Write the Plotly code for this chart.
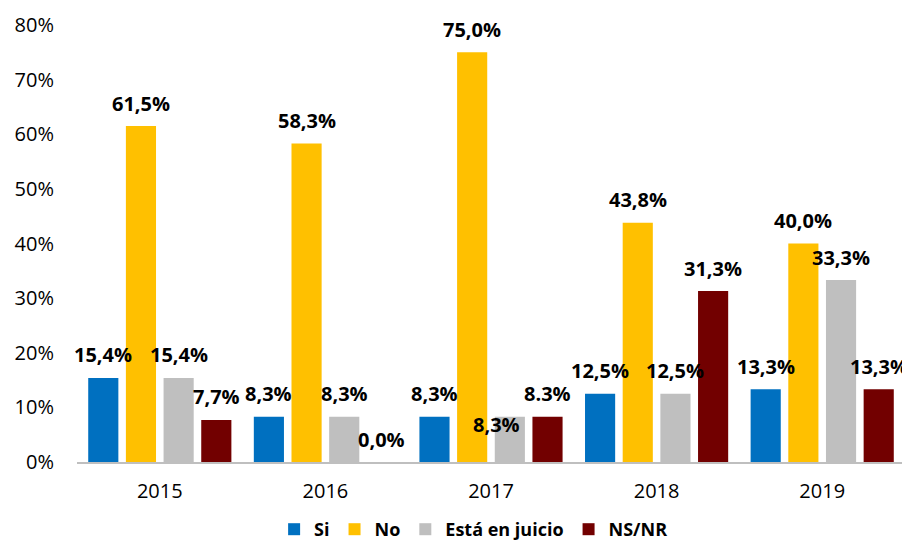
import plotly.graph_objects as go

# datos
years = ["2015", "2016", "2017", "2018", "2019"]
series_names = ["Si", "No", "Está en juicio", "NS/NR"]
si = [15.4, 8.3, 8.3, 12.5, 13.3]
no = [61.5, 58.3, 75.0, 43.8, 40.0]
juicio = [15.4, 8.3, 8.3, 12.5, 33.3]
nsnr = [7.7, 0.0, 8.3, 31.3, 13.3]
label_si = ["15,4%", "8,3%", "8,3%", "12,5%", "13,3%"]
label_no = ["61,5%", "58,3%", "75,0%", "43,8%", "40,0%"]
label_juicio = ["15,4%", "8,3%", "8,3%", "12,5%", "33,3%"]
label_nsnr = ["7,7%", "0,0%", "8.3%", "31,3%", "13,3%"]

colors = ["#0070C0", "#FFC000", "#BFBFBF", "#720000"]
values = [si, no, juicio, nsnr]
labels = [label_si, label_no, label_juicio, label_nsnr]

# la página tiene 8px de margen, así que la figura es un poco más pequeña
W, H = 902, 540
ml, mr, mt, mb = 69, 5, 17, 86
bargap = 0.09
plot_w = W - ml - mr
slot = plot_w / len(years) * (1 - bargap) / 4

fig = go.Figure()
for name, col, vals in zip(series_names, colors, values):
    fig.add_trace(go.Bar(x=years, y=[v / 100 for v in vals], name=name,
                         marker=dict(color=col, line=dict(width=0))))

# etiquetas de datos
for i, (vals, labs) in enumerate(zip(values, labels)):
    for j, (v, t) in enumerate(zip(vals, labs)):
        dx, dy = 0, 23
        if i == 2 and j == 2:
            dx, dy = -13, -8
        fig.add_annotation(
            x=j, y=v / 100, xref="x", yref="y", text=t, showarrow=False,
            xshift=(i - 1.5) * slot + dx, yshift=dy,
            font=dict(family="Open Sans", size=20, color="#000000", weight="bold"))

fig.update_layout(
    width=W, height=H,
    margin=dict(l=ml, r=mr, t=mt, b=mb),
    plot_bgcolor="white", paper_bgcolor="white",
    barmode="group", bargap=bargap, bargroupgap=0.2,
    font=dict(family="Open Sans", color="#000000"),
    showlegend=True,
    legend=dict(orientation="h", x=0.479, xanchor="center", y=0, yref="container",
                yanchor="bottom",
                font=dict(family="Open Sans", size=18, color="#000000", weight="bold"),
                traceorder="normal"),
    xaxis=dict(type="category", range=[-0.5, 4.5], showline=True, linecolor="#BFBFBF",
               linewidth=1.5, ticks="", tickfont=dict(size=20), ticklabelstandoff=10,
               automargin=False),
    yaxis=dict(range=[0, 0.8], dtick=0.1, tickformat=".0%", showgrid=False,
               zeroline=False, showline=False, tickfont=dict(size=20),
               ticklabelstandoff=22, automargin=False),
)

fig.write_html("out.html")
